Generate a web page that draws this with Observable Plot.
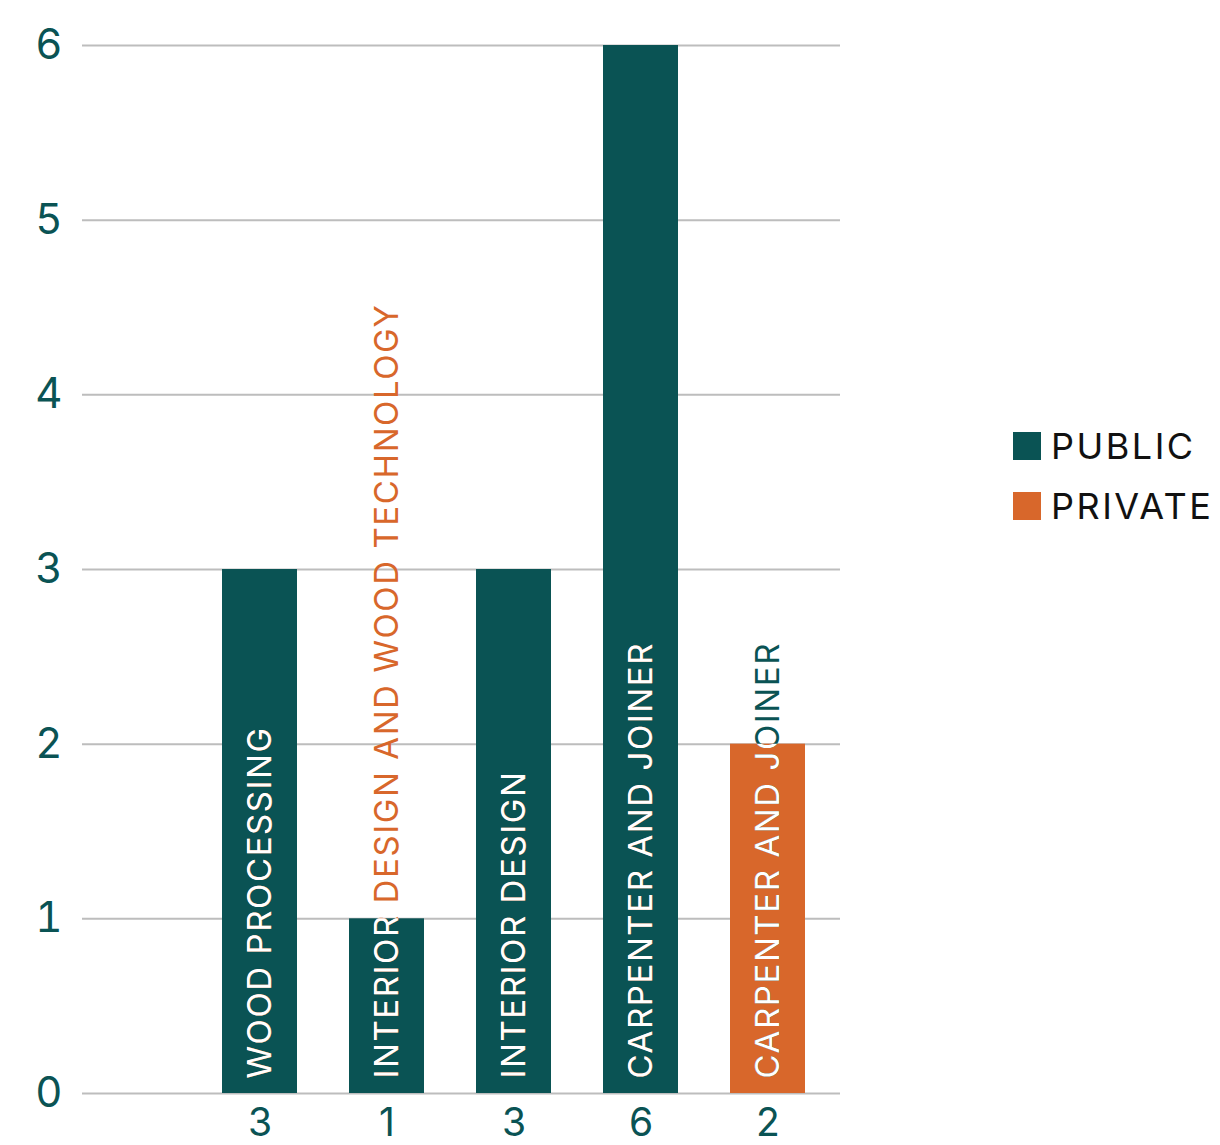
<!DOCTYPE html>
<html>
<head>
<meta charset="utf-8">
<script src="https://cdn.jsdelivr.net/npm/d3@7"></script>
<script src="https://cdn.jsdelivr.net/npm/@observablehq/plot@0.6"></script>
<style>
  html, body { margin: 0; padding: 0; background: #fff; }
  #wrap { position: relative; width: 1220px; height: 1145px; }
  .legend { position: absolute; left: 1013px; font-family: Inter, "Noto Sans", sans-serif; font-size: 36px; letter-spacing: 2.5px; color: #111; }
  .legend .row { display: flex; align-items: center; height: 60px; }
  .legend .sw { width: 28px; height: 28px; margin-right: 10px; }
</style>
</head>
<body>
<div id="wrap"></div>
<script>
const ids = ["b1", "b2", "b3", "b4", "b5"];
const labels = ["WOOD PROCESSING", "INTERIOR DESIGN AND WOOD TECHNOLOGY", "INTERIOR DESIGN", "CARPENTER AND JOINER", "CARPENTER AND JOINER"];
const values = [3, 1, 3, 6, 2];
const sectors = ["PUBLIC", "PUBLIC", "PUBLIC", "PUBLIC", "PRIVATE"];
const sectorNames = ["PUBLIC", "PRIVATE"];
const sectorColors = ["#0a5354", "#d8672b"];
const yTicks = [0, 1, 2, 3, 4, 5, 6];

const teal = sectorColors[0], orange = sectorColors[1];
const data = ids.map((id, i) => ({id, label: labels[i], value: values[i], sector: sectors[i]}));

const labelStyle = {rotate: -90, textAnchor: "start", dy: -15, fontSize: 33};

const plot = Plot.plot({
  width: 1220,
  height: 1145,
  marginLeft: 82,
  marginRight: 380,
  marginTop: 45,
  marginBottom: 52,
  style: {fontFamily: "Inter, 'Noto Sans', sans-serif", background: "#fff"},
  x: {domain: ids, range: [194, 832], paddingInner: 0.41, paddingOuter: 0.205, axis: null},
  y: {domain: [0, 6], axis: null},
  color: {domain: sectorNames, range: sectorColors},
  marks: [
    Plot.ruleY(yTicks, {stroke: "#bdbdbd", strokeWidth: 2}),
    Plot.axisY({ticks: yTicks, label: null, tickSize: 0, tickPadding: 20, fontSize: 42, fill: teal, tickFormat: d => String(d)}),
    Plot.barY(data, {x: "id", y: "value", fill: "sector"}),
    Plot.text(data, {x: "id", y: () => 0, text: "label", ...labelStyle,
      fill: d => d.sector === "PUBLIC" ? orange : teal}),
    Plot.text(data, {x: "id", y: () => 0, text: "label", ...labelStyle, fill: "#fff"}),
    Plot.text(data, {x: "id", y: () => 0, text: d => String(d.value), dy: 30, fontSize: 39, fill: teal})
  ]
});

// clip the white label copy to the bar shapes
const svg = d3.select(plot);
const defs = svg.insert("defs", ":first-child");
const clip = defs.append("clipPath").attr("id", "barclip").attr("clipPathUnits", "userSpaceOnUse");
const barG = plot.querySelector('g[aria-label="bar"]');
const textGs = plot.querySelectorAll('g[aria-label="text"]');
if (textGs[0]) textGs[0].setAttribute("letter-spacing", "1.6");
if (textGs[1]) textGs[1].setAttribute("letter-spacing", "1.6");
if (barG) {
  const gT = barG.getAttribute("transform") || "";
  barG.querySelectorAll("rect").forEach(r => {
    const c = r.cloneNode(true);
    c.setAttribute("transform", (gT + " " + (r.getAttribute("transform") || "")).trim());
    c.removeAttribute("fill");
    clip.node().appendChild(c);
  });
  const inG = textGs[1];
  if (inG) {
    const wrapper = document.createElementNS("http://www.w3.org/2000/svg", "g");
    wrapper.setAttribute("clip-path", "url(#barclip)");
    inG.parentNode.insertBefore(wrapper, inG);
    wrapper.appendChild(inG);
  }
}

document.getElementById("wrap").appendChild(plot);

const legend = d3.select("#wrap").append("div").attr("class", "legend").style("top", "416px");
sectorNames.forEach((s, i) => {
  const row = legend.append("div").attr("class", "row");
  row.append("div").attr("class", "sw").style("background", sectorColors[i]);
  row.append("span").text(s);
});
</script>
</body>
</html>
